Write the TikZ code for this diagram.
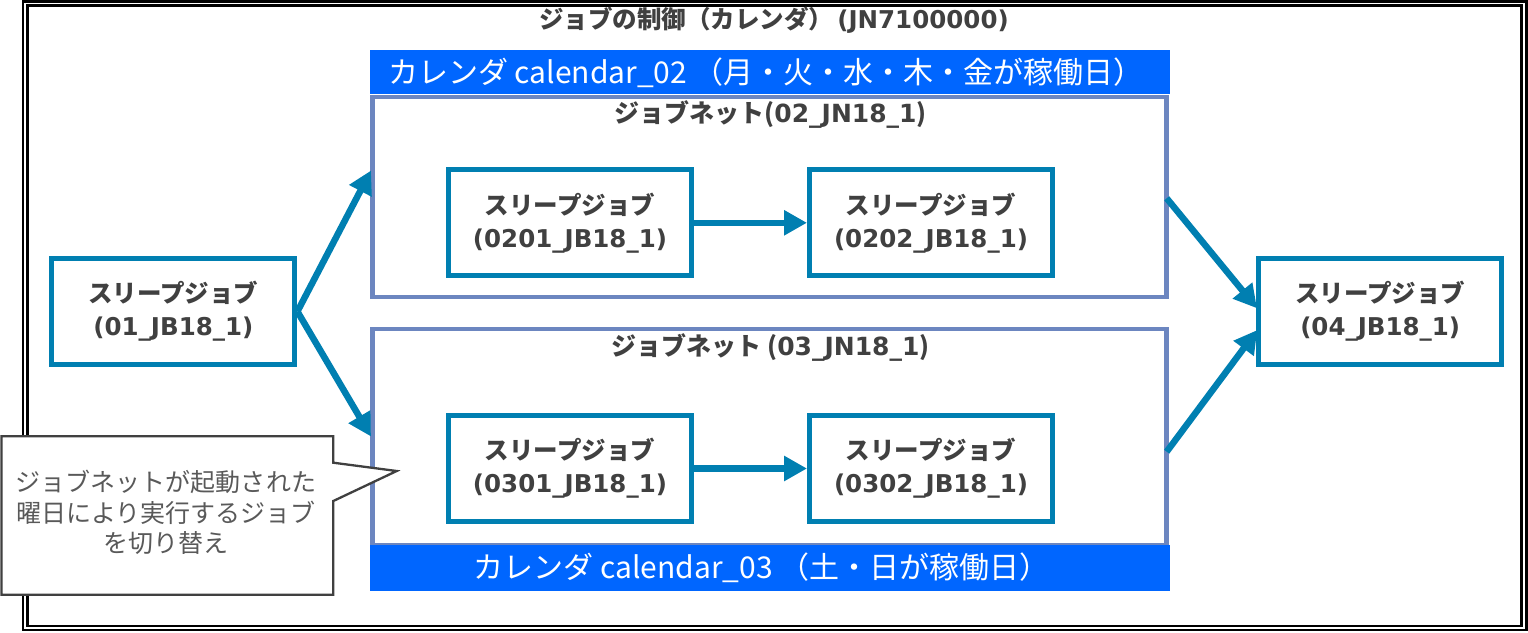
\documentclass[tikz,border=0pt]{standalone}
\usepackage{fontspec}
\setmainfont{Noto Sans CJK JP}
\newfontfamily\latb{DejaVu Sans}
\usetikzlibrary{arrows.meta}
\definecolor{jobc}{RGB}{0,127,177}
\definecolor{netc}{RGB}{108,134,192}
\definecolor{calc}{RGB}{0,102,255}
\definecolor{txtc}{RGB}{64,64,64}
\definecolor{notec}{RGB}{89,89,89}
\tikzset{
  jobbox/.style={draw=jobc, line width=5pt, fill=white, minimum width=243pt, minimum height=106pt,
    align=center, text=txtc, inner sep=0pt, font=\fontsize{24.5}{33}\selectfont\bfseries},
  netbox/.style={draw=netc, line width=4.5pt, minimum width=794pt, inner sep=0pt},
  calbar/.style={fill=calc, minimum width=800.5pt, inner sep=0pt},
  caltext/.style={text=white, inner sep=0pt, font=\fontsize{30}{34}\selectfont},
  nettitle/.style={text=txtc, inner sep=0pt, font=\fontsize{25}{30}\selectfont\bfseries},
  arr/.style={draw=jobc, line width=6.5pt, -{Triangle[length=23pt,width=24pt]}},
}
\begin{document}
\begin{tikzpicture}[x=1pt,y=-1pt]
\useasboundingbox (0,0) rectangle (1528,632);
% outer double frame
\draw[line width=2.5pt] (23,1.3) rectangle (1526.3,630);
\draw[line width=2.5pt] (27.5,5.3) rectangle (1521.3,626);
\node[text=txtc, inner sep=0pt, font=\fontsize{24.5}{28}\selectfont\bfseries] (title) at (774,20)
  {ジョブの制御（カレンダ）\,{\latb (JN7100000)}};
% jobnets
\node[netbox, minimum height=200pt] (jn02) at (769.6,197.1) {};
\node[netbox, minimum height=216pt] (jn03) at (769.6,437) {};
% calendar bars
\node[calbar, minimum height=43.5pt] (cal02) at (769.75,71.75) {};
\node[caltext] (cal02t) at (766,72.5) {カレンダ calendar\_02 （月・火・水・木・金が稼働日）};
\node[calbar, minimum height=45.5pt] (cal03) at (769.75,567.75) {};
\node[caltext] (cal03t) at (761.5,567.5) {カレンダ calendar\_03 （土・日が稼働日）};
% jobnet titles
\node[nettitle] (jn02t) at (770.5,114.5) {ジョブネット({\latb 02\_JN18\_1})};
\node[nettitle] (jn03t) at (770.5,347.5) {ジョブネット ({\latb 03\_JN18\_1})};
% jobs
\node[jobbox] (j01) at (173.4,311.5) {スリープジョブ\\{\latb (01\_JB18\_1)}};
\node[jobbox] (j0201) at (570,222.8) {スリープジョブ\\{\latb (0201\_JB18\_1)}};
\node[jobbox] (j0202) at (931,222.8) {スリープジョブ\\{\latb (0202\_JB18\_1)}};
\node[jobbox] (j0301) at (570,468.5) {スリープジョブ\\{\latb (0301\_JB18\_1)}};
\node[jobbox] (j0302) at (931,468.5) {スリープジョブ\\{\latb (0302\_JB18\_1)}};
\node[jobbox] (j04) at (1380.2,311.6) {スリープジョブ\\{\latb (04\_JB18\_1)}};
% connector end points
\coordinate (in02) at (371,170.5);
\coordinate (in03) at (371,436.5);
\coordinate (out02) at (1166.7,198.3);
\coordinate (out03) at (1166.7,451.7);
\coordinate (in04a) at (1257,308.3);
\coordinate (in04b) at (1257.3,330);
% arrows
\draw[arr] (j01.east) -- (in02);
\draw[arr] (j01.east) -- (in03);
\draw[arr] (j0201.east) -- (j0202.west);
\draw[arr] (j0301.east) -- (j0302.west);
\draw[arr] (out02) -- (in04a);
\draw[arr] (out03) -- (in04b);
% callout
\draw[draw=txtc, line width=2.3pt, fill=white, line join=miter]
  (1.5,436.2) -- (333.3,436.2) -- (333.3,462.7) -- (396.7,471) -- (333.3,501) -- (333.3,594.7) -- (1.5,594.7) -- cycle;
\node[text=notec, align=center, inner sep=0pt, font=\fontsize{25}{30.5}\selectfont] (note) at (166,512.5)
  {ジョブネットが起動された\\曜日により実行するジョブ\\を切り替え};
\end{tikzpicture}
\end{document}
